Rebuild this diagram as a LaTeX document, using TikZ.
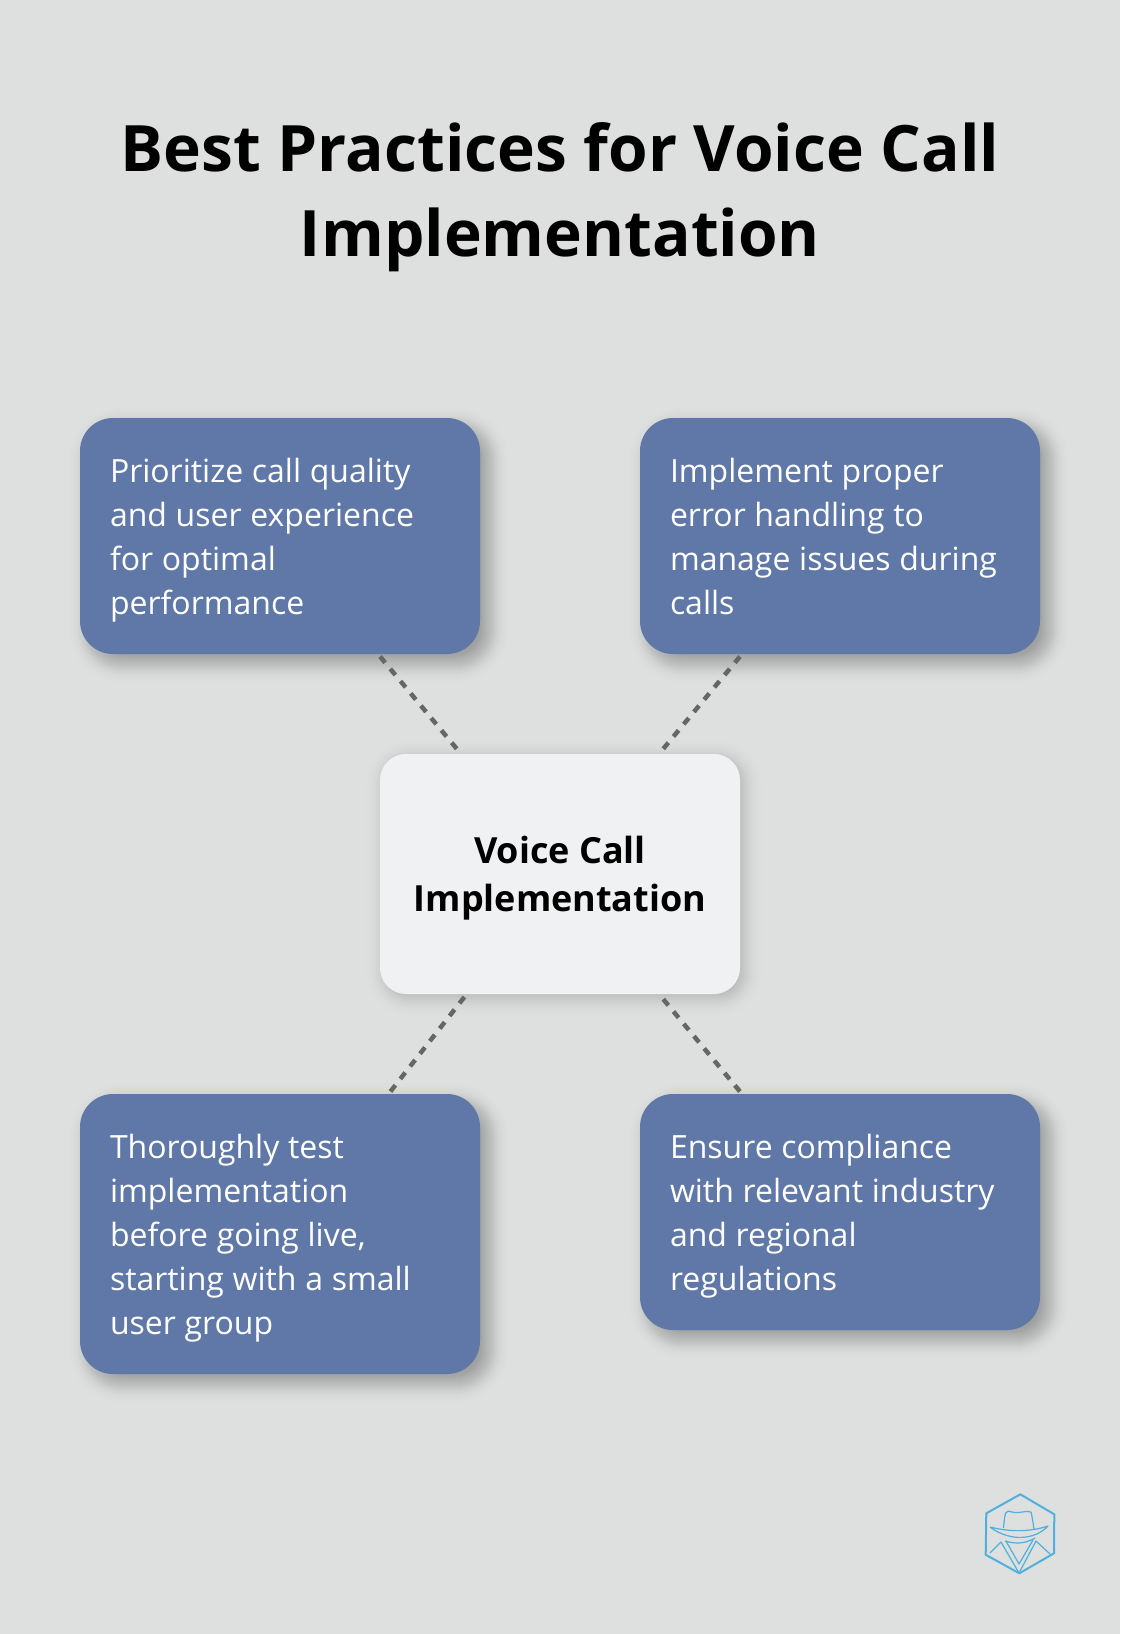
\documentclass[tikz,border=0pt]{standalone}
\usepackage{xcolor}
\usepackage{fontspec}
\setmainfont{Open Sans}
\usetikzlibrary{backgrounds}

\definecolor{pagebg}{HTML}{DEE0DF}
\definecolor{boxblue}{HTML}{5F78A8}
\definecolor{hubfill}{HTML}{EFF1F3}
\definecolor{dashgray}{HTML}{666666}
\definecolor{logoblue}{HTML}{4FB0DC}

\tikzset{
    tipbox/.style={shape=rectangle,rounded corners=33pt,fill=boxblue,text=white,
        text width=340pt,inner xsep=30pt,inner ysep=0pt,outer sep=2.5pt,align=left,
        font=\fontsize{32}{44}\selectfont,execute at begin node={\spaceskip=8.7pt\relax}},
    hubbox/.style={shape=rectangle,rounded corners=26pt,fill=hubfill,text=black,
        text depth=-2pt,minimum width=360pt,minimum height=240pt,outer sep=2.5pt,align=center,
        font=\bfseries\fontsize{36}{48}\selectfont},
    link/.style={draw=dashgray,line width=4.5pt,dash pattern=on 8pt off 8pt},
    logoline/.style={draw=logoblue,line width=1.2pt,line join=round}
}

% node name, offset, corner radius, peak opacity of one layer
\newcommand{\softshadow}[4]{
    \foreach \s in {-26,-24,...,26} {
        \pgfmathsetmacro{\rad}{max(#3+\s,2)}
        \pgfmathsetmacro{\grow}{\s-2.5}
        \pgfmathsetmacro{\layer}{#4*exp(-(\s/13)*(\s/13))}
        \fill[black,opacity=\layer,rounded corners=\rad pt]
            ([shift={(#2-\grow,#2-\grow)}]#1.north west) rectangle ([shift={(#2+\grow,#2+\grow)}]#1.south east);
    }
}

\begin{document}
\begin{tikzpicture}[x=1pt,y=-1pt]
    \useasboundingbox (0,0) rectangle (1120,1634);

    \node[font=\bfseries\fontsize{64}{85}\selectfont,align=center] (title) at (560,197) {Best Practices for Voice Call\\Implementation};

    \node[hubbox] (hub) at (560,874) {Voice Call\\Implementation};
    \node[tipbox,minimum height=236pt] (quality) at (280,536) {Prioritize call quality\\and user experience\\for optimal\\\smash{performance}};
    \node[tipbox,minimum height=236pt] (errors) at (840,536) {Implement proper\\error handling to\\manage issues during\\calls};
    \node[tipbox,minimum height=280pt] (testing) at (280,1234) {Thoroughly test\\implementation\\before going live,\\starting with a small\\\smash{user group}};
    \node[tipbox,minimum height=236pt] (compliance) at (840,1212) {Ensure compliance\\with relevant industry\\and regional\\\smash{regulations}};

    \begin{pgfonlayer}{background}
        \fill[pagebg] (0,0) rectangle (1120,1634);
        \softshadow{hub}{4}{26}{0.016}
        \softshadow{quality}{9}{33}{0.027}
        \softshadow{errors}{9}{33}{0.027}
        \softshadow{testing}{9}{33}{0.027}
        \softshadow{compliance}{9}{33}{0.027}
    \end{pgfonlayer}

    \draw[link] (quality) -- (hub);
    \draw[link] (errors) -- (hub);
    \draw[link] (testing) -- (hub);
    \draw[link] (compliance) -- (hub);

    % logo
    \draw[logoline,line width=2pt] (1020.3,1494.3) -- (1054.3,1514.3) -- (1054,1553.3) -- (1019.3,1573.3) -- (985.7,1554.7) -- (986.3,1513.3) -- cycle;
    \draw[logoline] (1003.5,1528) .. controls (1005,1510) and (1006,1510) .. (1012,1512) .. controls (1020,1514) and (1025,1510) .. (1031,1512) .. controls (1032,1516) and (1033,1522) .. (1034,1529);
    \draw[logoline] (990,1527) .. controls (1010,1542) and (1035,1540) .. (1048,1526) .. controls (1030,1532) and (1010,1532) .. (990,1527);
    \draw[logoline] (1005,1541) .. controls (1015,1544) and (1025,1544) .. (1035,1538);
    \draw[logoline] (990,1553) -- (1001,1542) -- (1019,1573) -- (1036,1541) -- (1050,1554);
    \draw[logoline] (1006,1541) -- (1019,1564) -- (1033,1540);
\end{tikzpicture}
\end{document}
